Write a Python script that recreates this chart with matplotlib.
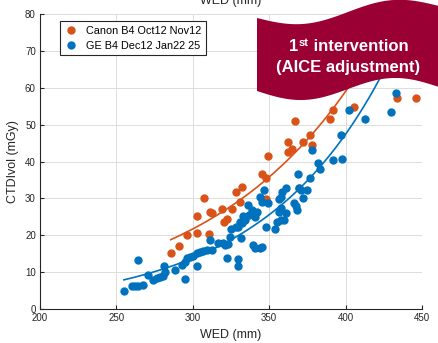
import numpy as np
import matplotlib
matplotlib.use('Agg')
import matplotlib.pyplot as plt
from matplotlib.patches import Polygon
from matplotlib.text import Annotation

plt.rcParams['font.family'] = ['Liberation Sans', 'DejaVu Sans']

# Canon B4 Oct12 Nov12
canon_wed = [285.6, 290.8, 296.0, 302.5, 302.5, 307.1, 311.0, 312.3, 310.4, 318.9,
             325.4, 320.2, 322.1, 328.0, 331.9, 330.6, 345.6, 347.6, 347.6, 348.9,
             362.0, 362.6, 365.2, 367.2, 371.8, 377.0, 378.3, 369.8, 390.0, 392.0,
             405.7, 433.8, 446.2]
canon_ctd = [15.2, 17.1, 20.1, 20.7, 25.3, 30.2, 26.4, 26.1, 20.4, 27.2,
             27.2, 23.7, 24.5, 31.6, 33.2, 29.1, 36.7, 35.6, 29.7, 41.4,
             45.2, 42.7, 43.3, 50.9, 45.2, 47.1, 44.4, 32.7, 51.4, 54.1,
             54.7, 57.1, 57.1]

# GE B4 Dec12 Jan22 25
ge_wed = [254.9, 260.1, 262.0, 264.0, 267.3, 264.0, 270.5, 273.8, 276.4, 278.4,
          280.3, 281.0, 281.6, 288.2, 294.7, 292.7, 294.7, 296.0, 298.0, 299.9,
          302.5, 302.5, 304.5, 306.5, 309.1, 311.0, 312.3, 316.2, 319.5, 320.8,
          322.8, 322.1, 329.3, 329.3, 331.3, 324.7, 324.1, 328.0, 329.3, 330.6,
          331.9, 333.9, 337.1, 339.1, 340.4, 341.7, 335.8, 338.5, 332.6, 339.1,
          340.4, 343.7, 345.0, 343.7, 346.9, 345.6, 348.9, 348.2, 353.5, 355.4,
          358.0, 360.0, 356.7, 361.3, 358.0, 356.1, 358.0, 358.7, 360.7, 366.5,
          367.8, 368.5, 369.8, 371.1, 372.4, 375.0, 369.1, 377.0, 378.3, 382.2,
          383.5, 392.0, 397.9, 397.2, 402.5, 412.9, 429.9, 433.2]
ge_ctd = [4.9, 6.3, 6.3, 6.3, 6.5, 13.3, 9.3, 7.9, 8.4, 8.7,
          9.0, 11.7, 10.1, 10.6, 8.2, 12.0, 12.8, 13.9, 14.1, 14.4,
          11.7, 15.2, 15.5, 15.8, 16.1, 18.8, 16.1, 18.0, 18.0, 17.4,
          17.7, 13.9, 13.6, 11.7, 19.3, 21.8, 19.6, 22.3, 22.3, 23.7,
          23.4, 24.2, 25.6, 26.1, 25.0, 26.4, 28.3, 26.9, 25.3, 17.4,
          16.6, 16.6, 16.9, 30.5, 32.4, 29.1, 28.8, 22.3, 21.8, 23.7,
          24.2, 24.2, 26.4, 26.1, 27.5, 29.7, 30.5, 31.6, 32.7, 28.8,
          27.8, 26.9, 32.9, 32.4, 30.2, 32.4, 36.7, 35.6, 43.0, 39.5,
          38.1, 40.5, 40.8, 47.1, 54.1, 51.4, 53.3, 58.5]

# exponential trend lines: (value at first point, growth rate per mm)
canon_fit = (18.8, 0.0100)
ge_fit = (7.9, 0.01235)

orange = '#D95319'
blue = '#0072BD'
banner = '#9B0034'


def trend(x, fit):
    xs = np.linspace(min(x), max(x), 200)
    return xs, fit[0] * np.exp(fit[1] * (xs - min(x)))


fig = plt.figure(figsize=(4.38, 3.43), dpi=100)
ax = fig.add_axes([40 / 438, 1 - 309 / 343, 382 / 438, 295 / 343])

ax.plot(canon_wed, canon_ctd, 'o', color=orange, ms=5, label='Canon B4 Oct12 Nov12')
ax.plot(ge_wed, ge_ctd, 'o', color=blue, ms=5, label='GE B4 Dec12 Jan22 25')
ax.plot(*trend(canon_wed, canon_fit), color=orange, lw=1.2)
ax.plot(*trend(ge_wed, ge_fit), color=blue, lw=1.2)

ax.set_xlim(200, 450)
ax.set_ylim(0, 80)
ax.set_xticks(range(200, 451, 50))
ax.set_yticks(range(0, 81, 10))
ax.grid(True, color='#DCDCDC', lw=0.7)
ax.set_axisbelow(True)
for s in ['top', 'right']:
    ax.spines[s].set_visible(False)
for s in ['left', 'bottom']:
    ax.spines[s].set_color('#262626')
    ax.spines[s].set_linewidth(0.8)
ax.tick_params(direction='in', length=3, width=0.8, colors='#262626', labelsize=7, pad=3)
ax.set_xlabel('WED (mm)', fontsize=9, color='#262626', labelpad=4)
ax.set_ylabel('CTDIvol (mGy)', fontsize=9, color='#262626', labelpad=4)

leg = ax.legend(loc='upper left', bbox_to_anchor=(0.053, 0.975), fontsize=7.8,
                frameon=True, fancybox=False, edgecolor='#262626', framealpha=1,
                handlelength=1.2, handletextpad=0.8, borderpad=0.4, labelspacing=0.45,
                borderaxespad=0)
leg.get_frame().set_linewidth(0.8)

# axis label of the panel above, cut off by the figure edge
fig.text(231 / 438, 1 - 4 / 343, 'WED (mm)', ha='center', va='baseline',
         fontsize=9, color='#262626')

# waving banner
t = np.linspace(0, 1, 100)
xs = 257 + 182 * t
top = 18 + 9 * np.sin(2 * np.pi * t) - 12 * t
bot = 91 + 10 * np.sin(2 * np.pi * t) - 4 * t
pts = np.concatenate([np.column_stack([xs, top]), np.column_stack([xs[::-1], bot[::-1]])])
pts[:, 0] /= 438
pts[:, 1] = 1 - pts[:, 1] / 343
fig.patches.append(Polygon(pts, closed=True, transform=fig.transFigure,
                           facecolor=banner, edgecolor='none', zorder=5))

t1 = fig.text(289 / 438, 1 - 51 / 343, '1', ha='left', va='baseline', fontsize=12,
              fontweight='bold', color='white', zorder=6)
t2 = Annotation('st', xy=(1.0, 1.0), xycoords=t1, xytext=(0.6, 0.5), textcoords='offset points',
                ha='left', va='top', fontsize=8, fontweight='bold', color='white',
                annotation_clip=False, zorder=6)
fig.add_artist(t2)
t3 = Annotation(' intervention', xy=(1.0, 0), xycoords=(t2, t1), ha='left', va='bottom',
                fontsize=12, fontweight='bold', color='white', annotation_clip=False, zorder=6)
fig.add_artist(t3)
fig.text(348 / 438, 1 - 72 / 343, '(AICE adjustment)', ha='center', va='baseline',
         fontsize=12, fontweight='bold', color='white', zorder=6)

fig.savefig('out.png', dpi=100)
